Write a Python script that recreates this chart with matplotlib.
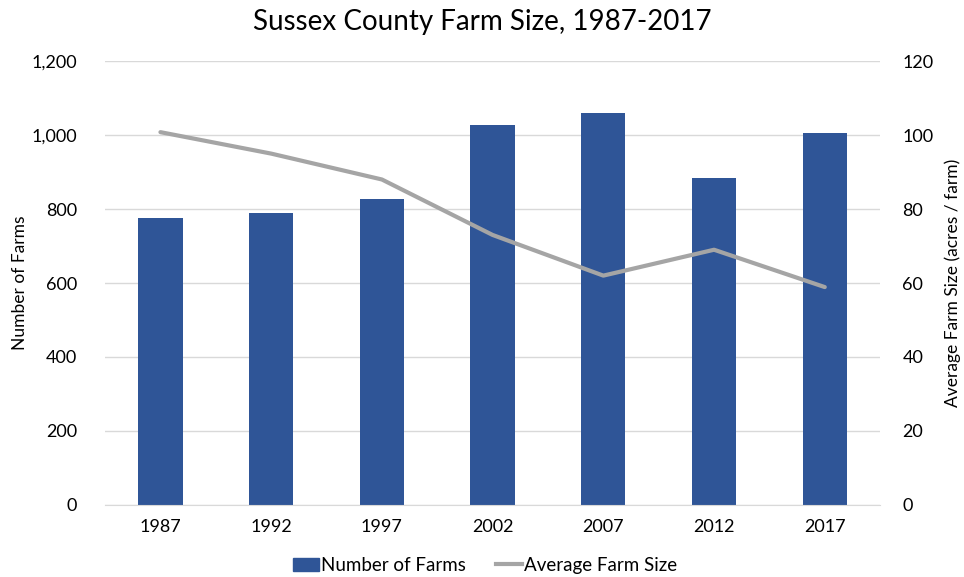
import matplotlib
matplotlib.use('Agg')
import matplotlib.pyplot as plt
from matplotlib.patches import Patch
from matplotlib.lines import Line2D

plt.rcParams['font.family'] = ['Lato', 'DejaVu Sans']

# Data
years = ['1987', '1992', '1997', '2002', '2007', '2012', '2017']
num_farms = [775, 789, 826, 1028, 1059, 884, 1007]
avg_size = [100.8, 95.0, 88.0, 73.0, 62.0, 69.0, 58.9]

bar_color = '#2F5597'
line_color = '#A5A5A5'
grid_color = '#D9D9D9'
text_color = '#000000'

fig = plt.figure(figsize=(9.64, 5.77), dpi=100)
ax = fig.add_axes([0.109, 0.125, 0.804, 0.769])
ax2 = ax.twinx()

x = list(range(len(years)))
ax.bar(x, num_farms, width=0.4, color=bar_color, zorder=2)
ax2.plot(x, avg_size, color=line_color, linewidth=3, solid_capstyle='round', zorder=3)

ax.set_xlim(-0.5, len(years) - 0.5)
ax.set_ylim(0, 1200)
ax2.set_ylim(0, 120)
ax.set_yticks(range(0, 1201, 200))
ax.set_yticklabels(['{:,}'.format(v) for v in range(0, 1201, 200)])
ax2.set_yticks(range(0, 121, 20))
ax.set_xticks(x)
ax.set_xticklabels(years)

ax.yaxis.grid(True, color=grid_color, linewidth=1, zorder=0)
ax.set_axisbelow(True)
for a in (ax, ax2):
    for s in a.spines.values():
        s.set_visible(False)
    a.tick_params(length=0, labelsize=13, colors=text_color)
ax.spines['bottom'].set_visible(True)
ax.spines['bottom'].set_color(grid_color)
ax.tick_params(axis='x', pad=10)
ax.tick_params(axis='y', pad=20)
ax2.tick_params(axis='y', pad=16)

ax.set_ylabel('Number of Farms', fontsize=12.5, labelpad=3)
ax2.set_ylabel('Average Farm Size (acres / farm)', fontsize=12.5, labelpad=8)
fig.text(0.5, 0.962, 'Sussex County Farm Size, 1987-2017', ha='center', va='center', fontsize=20)

handles = [Patch(color=bar_color), Line2D([0], [0], color=line_color, linewidth=3)]
fig.legend(handles, ['Number of Farms', 'Average Farm Size'], loc='center',
           bbox_to_anchor=(0.503, 0.02), ncol=2, frameon=False, fontsize=13.5,
           handlelength=1.4, handletextpad=0.1, columnspacing=1.6,
           borderpad=0, borderaxespad=0)

fig.savefig('out.png', dpi=100)
